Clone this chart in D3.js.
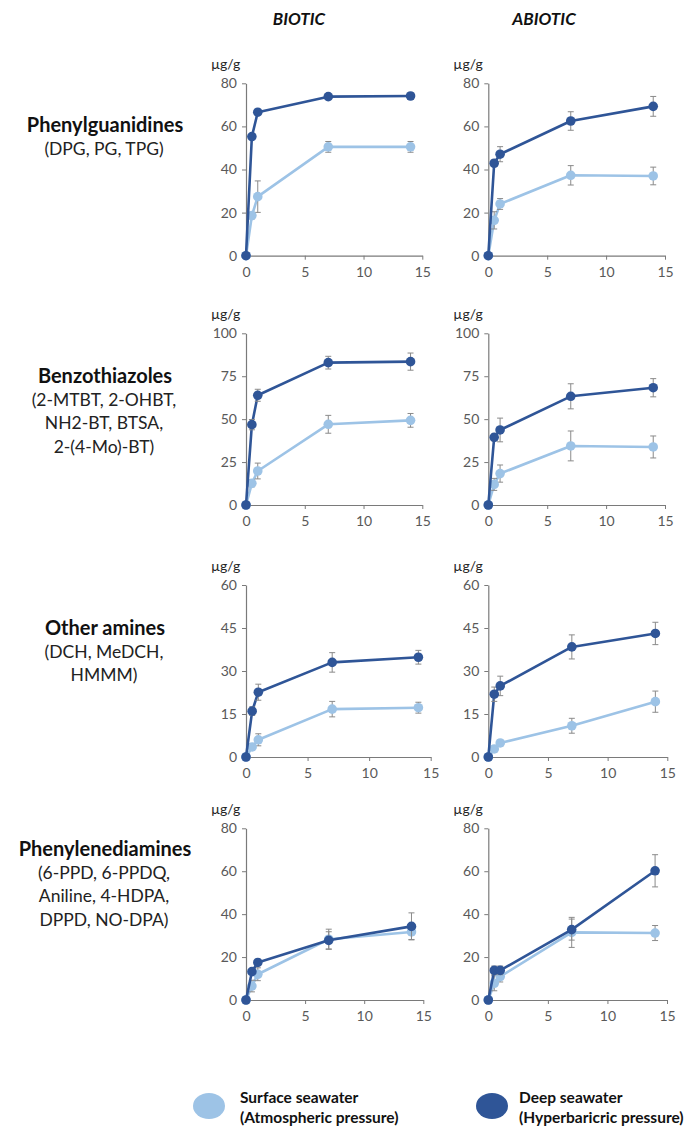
<!DOCTYPE html>
<html>
<head>
<meta charset="utf-8">
<script src="https://cdn.jsdelivr.net/npm/d3@7"></script>
<style>
  html, body { margin: 0; padding: 0; background: #fff; }
  svg { display: block; font-family: Lato, "Open Sans", sans-serif; }
</style>
</head>
<body>
<svg id="chart" width="691" height="1126"></svg>
<script>
// ---------------- DATA ----------------
const times = [0, 0.5, 1, 7, 14];
const xTicks = [0, 5, 10, 15];
const columns = ["BIOTIC", "ABIOTIC"];
const groups = ["Phenylguanidines", "Benzothiazoles", "Other amines", "Phenylenediamines"];
const groupSub = [
  ["(DPG, PG, TPG)"],
  ["(2-MTBT, 2-OHBT,", "NH2-BT, BTSA,", "2-(4-Mo)-BT)"],
  ["(DCH, MeDCH,", "HMMM)"],
  ["(6-PPD, 6-PPDQ,", "Aniline, 4-HDPA,", "DPPD, NO-DPA)"]
];
const yMax = [80, 100, 60, 80];
const yTicks = [[0, 20, 40, 60, 80], [0, 25, 50, 75, 100], [0, 15, 30, 45, 60], [0, 20, 40, 60, 80]];
const unitLabel = "µg/g";
const seriesNames = ["Surface seawater", "Deep seawater"];
const seriesSub = ["(Atmospheric pressure)", "(Hyperbaricric pressure)"];

// Biotic
const bioticSurface = [
  [0, 18.6, 27.4, 50.5, 50.5],
  [0, 12.6, 19.8, 47.0, 49.3],
  [0, 3.5, 6.0, 16.7, 17.2],
  [0, 6.5, 12.0, 28.3, 31.7]
];
const bioticSurfaceErr = [
  [0, 1.5, 7.3, 2.5, 2.5],
  [0, 2.0, 4.6, 5.2, 4.0],
  [0, 1.0, 2.1, 2.7, 1.9],
  [0, 2.7, 3.0, 4.7, 3.5]
];
const bioticDeep = [
  [0, 55.3, 66.6, 73.8, 74.1],
  [0, 46.8, 63.9, 82.9, 83.5],
  [0, 16.0, 22.6, 33.0, 34.8],
  [0, 13.2, 17.5, 27.8, 34.3]
];
const bioticDeepErr = [
  [0, 1.0, 1.0, 1.0, 1.5],
  [0, 3.0, 3.5, 3.7, 5.0],
  [0, 1.5, 2.8, 3.4, 2.4],
  [0, 1.0, 1.5, 4.0, 6.3]
];
// Abiotic
const abioticSurface = [
  [0, 16.4, 24.0, 37.3, 37.0],
  [0, 12.0, 18.3, 34.4, 33.8],
  [0, 2.8, 4.9, 10.9, 19.3],
  [0, 7.8, 10.9, 31.5, 31.2]
];
const abioticSurfaceErr = [
  [0, 4.0, 2.5, 4.5, 4.1],
  [0, 3.5, 5.0, 8.7, 6.4],
  [0, 1.0, 1.0, 2.6, 3.7],
  [0, 3.5, 2.5, 7.0, 3.5]
];
const abioticDeep = [
  [0, 42.9, 47.1, 62.5, 69.3],
  [0, 39.4, 43.7, 63.3, 68.3],
  [0, 21.9, 24.8, 38.4, 43.1],
  [0, 13.8, 13.8, 32.8, 60.2]
];
const abioticDeepErr = [
  [0, 1.5, 3.5, 4.3, 4.6],
  [0, 2.0, 6.9, 7.3, 5.3],
  [0, 2.5, 3.4, 4.2, 3.9],
  [0, 2.0, 2.0, 4.9, 7.5]
];

// ---------------- LAYOUT ----------------
const colors = { surface: "#9DC3E6", deep: "#2F5597" };
const rowTop = [83.3, 333.3, 585, 828.3];
const rowBottom = [255.7, 505, 757, 1000];
const colLeft = [246, 488.3];
const colRight = [[422.3, 422.3, 430.7, 423.3], [665, 665, 667.3, 667]];

const svg = d3.select("#chart");
svg.append("rect").attr("width", 691).attr("height", 1126).attr("fill", "#fff");

// column titles
const titleX = [299, 544];
columns.forEach((c, i) => {
  svg.append("text").attr("x", titleX[i]).attr("y", 18).attr("text-anchor", "middle")
    .attr("dominant-baseline", "central")
    .attr("font-size", 17).attr("font-weight", "bold").attr("font-style", "italic")
    .attr("fill", "#111").text(c);
});

// row labels
const labelY = [124, 375, 627, 848];
groups.forEach((g, r) => {
  svg.append("text").attr("x", 105).attr("y", labelY[r]).attr("text-anchor", "middle")
    .attr("dominant-baseline", "central").attr("font-size", 20).attr("font-weight", "bold")
    .attr("fill", "#111").text(g);
  groupSub[r].forEach((s, k) => {
    svg.append("text").attr("x", 104).attr("y", labelY[r] + 24 + k * 23.5)
      .attr("text-anchor", "middle").attr("dominant-baseline", "central")
      .attr("font-size", 17.5).attr("fill", "#222").text(s);
  });
});

const panelData = [
  { surf: bioticSurface, surfErr: bioticSurfaceErr, deep: bioticDeep, deepErr: bioticDeepErr },
  { surf: abioticSurface, surfErr: abioticSurfaceErr, deep: abioticDeep, deepErr: abioticDeepErr }
];

for (let c = 0; c < 2; c++) {
  for (let r = 0; r < 4; r++) {
    const x = d3.scaleLinear().domain([0, 15]).range([colLeft[c], colRight[c][r]]);
    const y = d3.scaleLinear().domain([0, yMax[r]]).range([rowBottom[r], rowTop[r]]);
    const g = svg.append("g");

    // y axis
    const ya = g.append("g").attr("transform", `translate(${colLeft[c]},0)`)
      .call(d3.axisLeft(y).tickValues(yTicks[r]).tickSize(4).tickPadding(5).tickSizeOuter(0));
    // x axis
    const xa = g.append("g").attr("transform", `translate(0,${rowBottom[r]})`)
      .call(d3.axisBottom(x).tickValues(xTicks).tickSize(4).tickPadding(7).tickSizeOuter(0));
    [ya, xa].forEach(a => {
      a.select(".domain").attr("stroke", "#7a7a7a").attr("stroke-width", 1.2);
      a.selectAll(".tick line").attr("stroke", "#7a7a7a");
      a.selectAll(".tick text").attr("fill", "#595959").attr("font-size", 14)
        .attr("font-family", "Lato, 'Open Sans', sans-serif");
    });

    // unit label
    g.append("text").attr("x", colLeft[c] - 35).attr("y", rowTop[r] - 20)
      .attr("dominant-baseline", "central").attr("font-size", 14).attr("fill", "#262626")
      .text(unitLabel);

    const pd = panelData[c];
    const series = [
      { vals: pd.surf[r], errs: pd.surfErr[r], color: colors.surface },
      { vals: pd.deep[r], errs: pd.deepErr[r], color: colors.deep }
    ];
    const line = d3.line().x((d, i) => x(times[i])).y(d => y(d));
    series.forEach(s => {
      g.append("path").datum(s.vals).attr("d", line).attr("fill", "none")
        .attr("stroke", s.color).attr("stroke-width", 2.6).attr("stroke-linejoin", "round");
      // error bars
      s.vals.forEach((v, i) => {
        const e = s.errs[i];
        if (!e) return;
        const cx = x(times[i]);
        const eg = g.append("g").attr("stroke", "#8a8a8a").attr("stroke-width", 1);
        eg.append("line").attr("x1", cx).attr("x2", cx).attr("y1", y(v - e)).attr("y2", y(v + e));
        eg.append("line").attr("x1", cx - 3).attr("x2", cx + 3).attr("y1", y(v - e)).attr("y2", y(v - e));
        eg.append("line").attr("x1", cx - 3).attr("x2", cx + 3).attr("y1", y(v + e)).attr("y2", y(v + e));
      });
      g.selectAll(null).data(s.vals).enter().append("circle")
        .attr("cx", (d, i) => x(times[i])).attr("cy", d => y(d)).attr("r", 4.8)
        .attr("fill", s.color);
    });
  }
}

// legend
const legX = [209, 492];
const legTextX = [240, 519];
[colors.surface, colors.deep].forEach((col, i) => {
  svg.append("ellipse").attr("cx", legX[i]).attr("cy", 1106).attr("rx", 16).attr("ry", 13).attr("fill", col);
  svg.append("text").attr("x", legTextX[i]).attr("y", 1097).attr("dominant-baseline", "central")
    .attr("font-size", 15.5).attr("font-weight", "bold").attr("fill", "#111").text(seriesNames[i]);
  svg.append("text").attr("x", legTextX[i]).attr("y", 1117).attr("dominant-baseline", "central")
    .attr("font-size", 15.5).attr("font-weight", "bold").attr("fill", "#111").text(seriesSub[i]);
});
</script>
</body>
</html>
